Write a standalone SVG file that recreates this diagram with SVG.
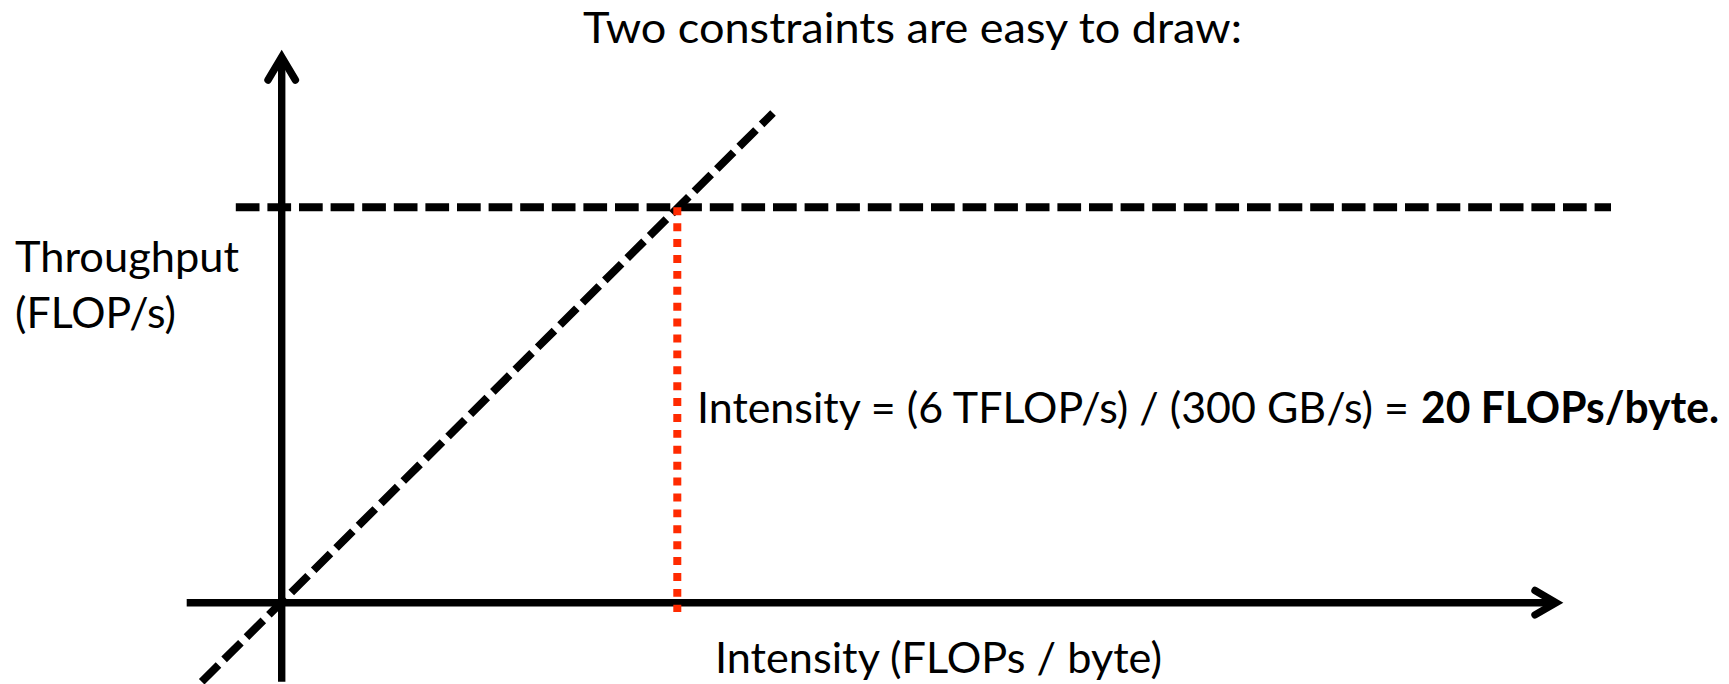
<svg xmlns="http://www.w3.org/2000/svg" width="1729" height="684" viewBox="0 0 1729 684">
  <style>
    .axis { fill: none; stroke: #000; stroke-width: 7.4; stroke-linecap: butt; }
    .head { fill: none; stroke: #000; stroke-width: 7.4; stroke-linecap: round; stroke-linejoin: miter; stroke-miterlimit: 10; }
    .limit { fill: none; stroke: #000; stroke-width: 7.9; stroke-dasharray: 23.7 7.9; stroke-linecap: butt; }
    .ridge { fill: none; stroke: #ff2a00; stroke-width: 8; stroke-dasharray: 7.95 7.95; stroke-linecap: butt; }
    text { font-family: Lato, "Liberation Sans", "DejaVu Sans", sans-serif; font-size: 43px; fill: #000; }
    .b { font-weight: bold; }
  </style>
  <rect x="0" y="0" width="1729" height="684" fill="#fff"/>

  <!-- axes with open chevron heads -->
  <g id="axes">
    <g id="y-axis">
      <line class="axis" x1="281.7" y1="681.7" x2="281.7" y2="58"/>
      <polyline class="head" points="268,80 281.7,57 295.4,80"/>
    </g>
    <g id="x-axis">
      <line class="axis" x1="186.7" y1="602.7" x2="1555" y2="602.7"/>
      <polyline class="head" points="1535,590.5 1556,602.7 1535,614.9"/>
    </g>
  </g>

  <!-- the two constraint lines and the ridge point drop -->
  <g id="connectors">
    <path id="peak-limit" class="limit" d="M235.8 207.3 H1611"/>
    <path id="bandwidth-limit" class="limit" d="M201.7 681.7 L773 113"/>
    <path id="ridge-drop" class="ridge" d="M677.3 207.3 V612"/>
  </g>

  <!-- labels -->
  <g id="title">
    <text x="583" y="42.5" textLength="659" lengthAdjust="spacingAndGlyphs">Two constraints are easy to draw:</text>
  </g>
  <g id="y-label">
    <text x="15" y="271.5" textLength="224" lengthAdjust="spacingAndGlyphs">Throughput</text>
    <text x="15" y="327.5" textLength="161" lengthAdjust="spacingAndGlyphs">(FLOP/s)</text>
  </g>
  <g id="ridge-label">
    <text x="697" y="423" textLength="712" lengthAdjust="spacingAndGlyphs">Intensity = (6 TFLOP/s) / (300 GB/s) =</text>
    <text class="b" x="1421" y="423" textLength="298" lengthAdjust="spacingAndGlyphs">20 FLOPs/byte.</text>
  </g>
  <g id="x-label">
    <text x="715" y="673" textLength="447" lengthAdjust="spacingAndGlyphs">Intensity (FLOPs / byte)</text>
  </g>
</svg>
